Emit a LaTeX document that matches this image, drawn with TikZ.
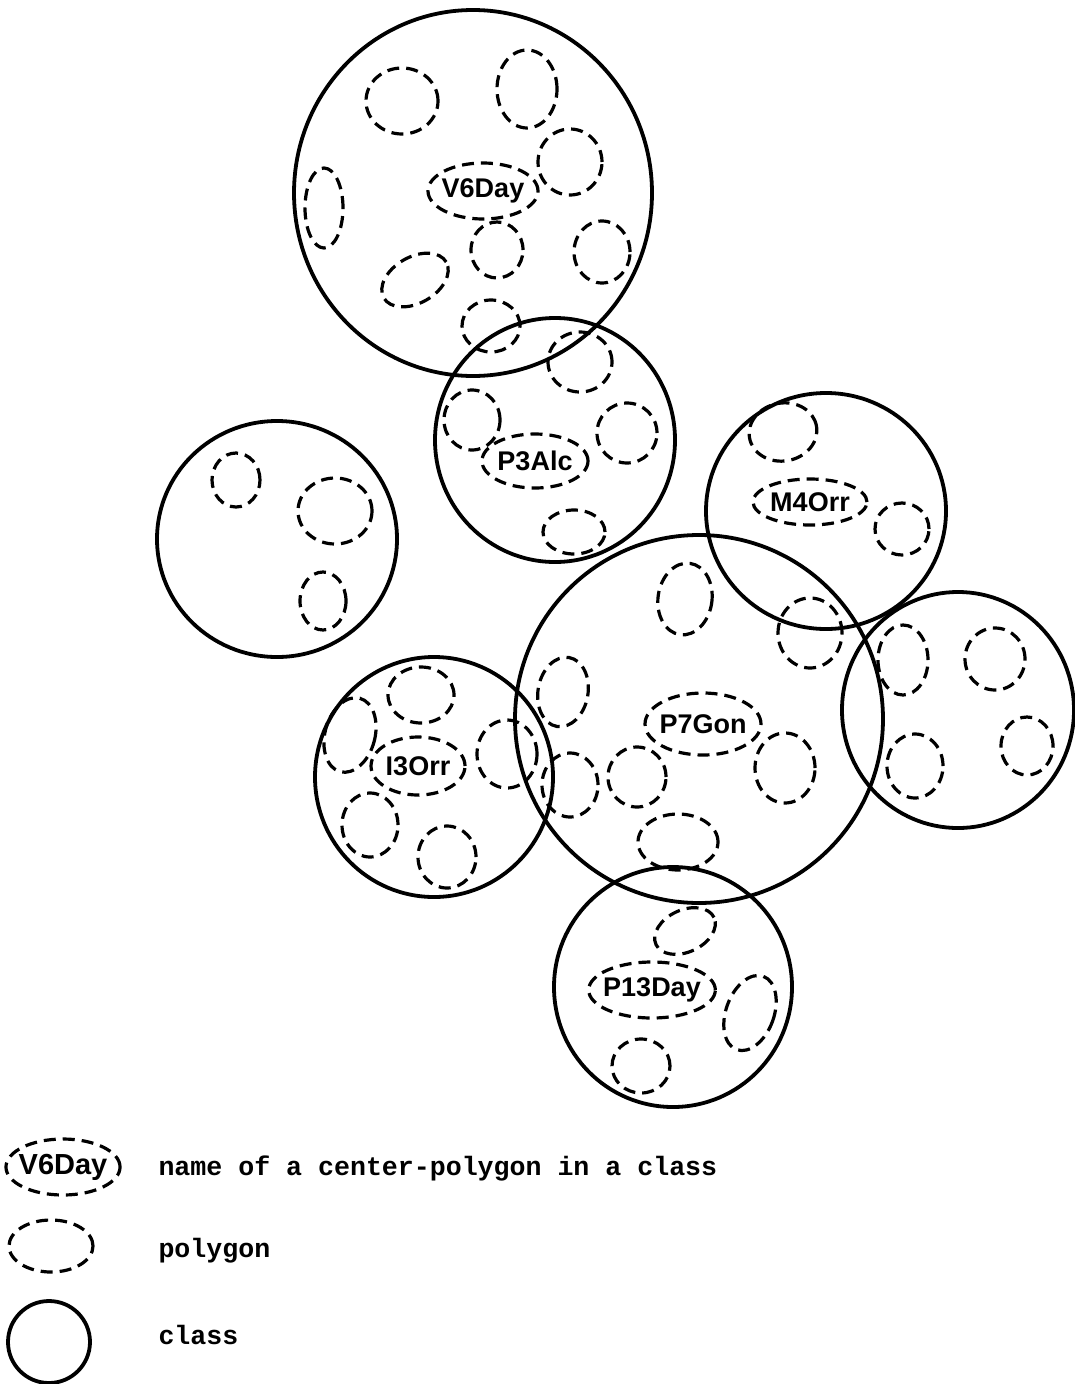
\documentclass[tikz,border=0pt]{standalone}
\usepackage{fontspec}
\newfontfamily\labelfont{Liberation Sans}
\newfontfamily\legendfont{Liberation Mono}
\usetikzlibrary{shapes.geometric}

\begin{document}
\begin{tikzpicture}[
  x=1pt, y=-1pt,
  cls/.style={draw=black, line width=3.8pt, ellipse, inner sep=0pt},
  poly/.style={draw=black, line width=3.2pt, dash pattern=on 12pt off 7pt,
    ellipse, inner sep=0pt},
  cpoly/.style={poly, inner xsep=-4pt, inner ysep=0pt,
    font=\labelfont\bfseries\fontsize{27}{29}\selectfont},
  key/.style={anchor=base west,
    font=\legendfont\bfseries\fontsize{26.6}{30}\selectfont}
]
  \useasboundingbox (0,0) rectangle (1074,1384);

  %% ============================================ class around V6Day
  \node[cls, minimum width=358, minimum height=366] (cv6day) at (473,193) {};
  \node[cpoly, minimum width=110, minimum height=56] (v6day) at (483,191) {V6Day};
  \node[poly, minimum width=72, minimum height=66] (v6a) at (402,101) {};
  \node[poly, minimum width=60, minimum height=78] (v6b) at (527,89) {};
  \node[poly, minimum width=64, minimum height=66] (v6c) at (570,162) {};
  \node[poly, minimum width=38, minimum height=80] (v6d) at (324,208) {};
  \node[poly, minimum width=52, minimum height=56] (v6e) at (497,250) {};
  \node[poly, minimum width=56, minimum height=62] (v6f) at (602,252) {};
  \node[poly, minimum width=72, minimum height=46, rotate=30] (v6g) at (415,280) {};
  \node[poly, minimum width=58, minimum height=52] (v6h) at (491,326) {};
  \node[poly, minimum width=64, minimum height=60] (v6i) at (580,362) {};

  %% ============================================ class around P3Alc
  \node[cls, minimum width=240, minimum height=244] (cp3alc) at (555,440) {};
  \node[cpoly, minimum width=106, minimum height=54] (p3alc) at (535,461) {P3Alc};
  \node[poly, minimum width=56, minimum height=60] (p3a) at (472,420) {};
  \node[poly, minimum width=60, minimum height=60] (p3b) at (627,433) {};
  \node[poly, minimum width=62, minimum height=44] (p3c) at (574,532) {};

  %% ============================================ class with no name
  \node[cls, minimum width=240, minimum height=236] (cplain) at (277,539) {};
  \node[poly, minimum width=48, minimum height=54] (pla) at (236,480) {};
  \node[poly, minimum width=74, minimum height=66] (plb) at (335,511) {};
  \node[poly, minimum width=46, minimum height=58] (plc) at (323,601) {};

  %% ============================================ class around M4Orr
  \node[cls, minimum width=240, minimum height=236] (cm4orr) at (826,511) {};
  \node[cpoly, minimum width=114, minimum height=46] (m4orr) at (810,502) {M4Orr};
  \node[poly, minimum width=68, minimum height=58, rotate=10] (m4a) at (783,432) {};
  \node[poly, minimum width=54, minimum height=52] (m4b) at (902,529) {};
  \node[poly, minimum width=64, minimum height=70] (m4c) at (810,633) {};

  %% ============================================ class around P7Gon
  \node[cls, minimum width=368, minimum height=368] (cp7gon) at (699,719) {};
  \node[cpoly, minimum width=116, minimum height=62] (p7gon) at (703,724) {P7Gon};
  \node[poly, minimum width=54, minimum height=72, rotate=-8] (p7a) at (685,599) {};
  \node[poly, minimum width=50, minimum height=70, rotate=-10] (p7b) at (563,692) {};
  \node[poly, minimum width=56, minimum height=64] (p7c) at (570,785) {};
  \node[poly, minimum width=58, minimum height=60] (p7d) at (637,777) {};
  \node[poly, minimum width=60, minimum height=70] (p7e) at (785,768) {};
  \node[poly, minimum width=80, minimum height=56] (p7f) at (678,842) {};

  %% ============================================ class to the right
  \node[cls, minimum width=232, minimum height=236] (cright) at (958,710) {};
  \node[poly, minimum width=50, minimum height=70] (ria) at (903,660) {};
  \node[poly, minimum width=60, minimum height=62] (rib) at (995,659) {};
  \node[poly, minimum width=56, minimum height=64] (ric) at (915,766) {};
  \node[poly, minimum width=52, minimum height=58] (rid) at (1027,746) {};

  %% ============================================ class around I3Orr
  \node[cls, minimum width=238, minimum height=240] (ci3orr) at (434,777) {};
  \node[cpoly, minimum width=94, minimum height=58] (i3orr) at (418,766) {I3Orr};
  \node[poly, minimum width=66, minimum height=56] (i3a) at (421,695) {};
  \node[poly, minimum width=50, minimum height=76, rotate=-15] (i3b) at (350,735) {};
  \node[poly, minimum width=60, minimum height=68] (i3c) at (507,754) {};
  \node[poly, minimum width=56, minimum height=64] (i3d) at (370,825) {};
  \node[poly, minimum width=58, minimum height=62] (i3e) at (447,857) {};

  %% ============================================ class around P13Day
  \node[cls, minimum width=238, minimum height=240] (cp13day) at (673,987) {};
  \node[cpoly, minimum width=124, minimum height=56] (p13day) at (652,990) {P13Day};
  \node[poly, minimum width=64, minimum height=42, rotate=25] (p13a) at (685,931) {};
  \node[poly, minimum width=48, minimum height=78, rotate=-20] (p13b) at (750,1013) {};
  \node[poly, minimum width=58, minimum height=54] (p13c) at (641,1066) {};

  %% ============================================ key
  \node[cpoly, minimum width=104, minimum height=56,
    font=\labelfont\bfseries\fontsize{29}{31}\selectfont] (keyname) at (63,1167) {V6Day};
  \node[poly, minimum width=84, minimum height=52] (keypoly) at (51,1246) {};
  \node[cls, minimum width=82, minimum height=82] (keycls) at (49,1342) {};
  \node[key] (keynametxt) at (155,1175) {name of a center-polygon in a class};
  \node[key] (keypolytxt) at (155,1257) {polygon};
  \node[key] (keyclstxt) at (155,1344) {class};

\end{tikzpicture}
\end{document}
